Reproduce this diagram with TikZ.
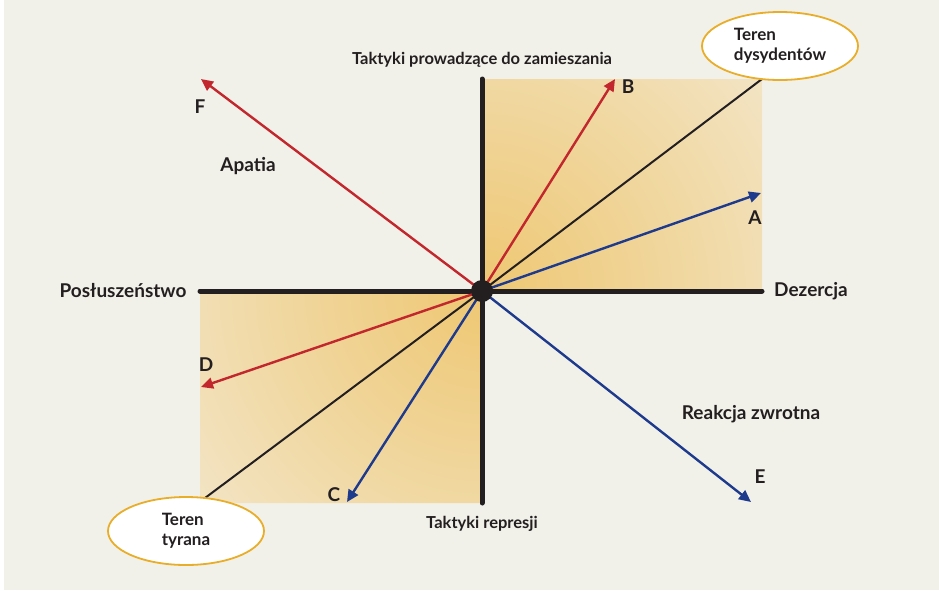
\documentclass[tikz,border=0pt]{standalone}
\usepackage{fontspec}
\setmainfont{Lato}
\usetikzlibrary{arrows.meta,shapes.geometric}
\definecolor{bgbeige}{HTML}{F2F1E9}
\definecolor{gradin}{HTML}{EEC772}
\definecolor{gradout}{HTML}{F4EFE3}
\definecolor{redarr}{HTML}{C1272D}
\definecolor{bluearr}{HTML}{1E3A8C}
\definecolor{goldline}{HTML}{E8AE2A}
\definecolor{txtgray}{HTML}{231F20}
\tikzset{
  lab/.style={font=\bfseries\fontsize{19}{22}\selectfont,text=txtgray},
  tact/.style={font=\bfseries\fontsize{16.5}{19}\selectfont,text=txtgray},
  teren/.style={ellipse,draw=goldline,line width=1.8pt,fill=white,
    minimum width=156pt,minimum height=68pt,inner sep=0pt,align=left,
    font=\bfseries\fontsize{17}{20}\selectfont,text=txtgray},
  axis/.style={line width=5pt,txtgray},
  redvec/.style={->,line width=2.4pt,redarr},
  bluevec/.style={->,line width=2.4pt,bluearr}
}
\begin{document}
\begin{tikzpicture}[x=1pt,y=-1pt,line cap=round,line join=round,
  >={Triangle[length=12pt,width=11pt]}]
\useasboundingbox (0,0) rectangle (939,590);
\fill[white] (0,0) rectangle (939,590);
\fill[bgbeige] (4,0) rectangle (939,590);
% shaded quadrants
\begin{scope}
\clip (482,79) rectangle (762,291) (200,291) rectangle (482,503);
\shade[inner color=gradin,outer color=gradout] (482,291) circle (490);
\end{scope}
\coordinate (o) at (482,291);
\coordinate (xl) at (200,291);
\coordinate (xr) at (762,291);
\coordinate (yt) at (482,79);
\coordinate (yb) at (482,503);
% axes
\draw[axis] (xl)--(xr);
\draw[axis] (yt)--(yb);
% terrain lines
\coordinate (dys) at (762,79);
\coordinate (tyr) at (205,498);
\draw[line width=2pt,txtgray] (o)--(dys);
\draw[line width=2pt,txtgray] (o)--(tyr);
% vectors
\coordinate (A) at (761,193);
\coordinate (B) at (615,79);
\coordinate (C) at (347,502);
\coordinate (D) at (201,387);
\coordinate (E) at (751,502);
\coordinate (F) at (201,79);
\draw[redvec] (o)--(B);
\draw[redvec] (o)--(D);
\draw[redvec] (o)--(F);
\draw[bluevec] (o)--(A);
\draw[bluevec] (o)--(C);
\draw[bluevec] (o)--(E);
\fill[txtgray] (o) circle (11);
% letters
\node[lab] (lA) at (755,218) {A};
\node[lab] (lB) at (628,87) {B};
\node[lab] (lC) at (334,495) {C};
\node[lab] (lD) at (206,365) {D};
\node[lab] (lE) at (760,477) {E};
\node[lab] (lF) at (200,107) {F};
% axis titles
\node[tact] (top) at (482,60) {Taktyki prowadzące do zamieszania};
\node[tact] (bot) at (482,524) {Taktyki represji};
\node[lab] (left) at (123,291) {Posłuszeństwo};
\node[lab] (right) at (811,291) {Dezercja};
\node[lab] (apat) at (248,166) {Apatia};
\node[lab] (reak) at (751,414) {Reakcja zwrotna};
% terrains
\node[teren] (tdys) at (780,46) {Teren\\dysydentów};
\node[teren] (ttyr) at (186,531) {Teren\\tyrana};
\end{tikzpicture}
\end{document}
